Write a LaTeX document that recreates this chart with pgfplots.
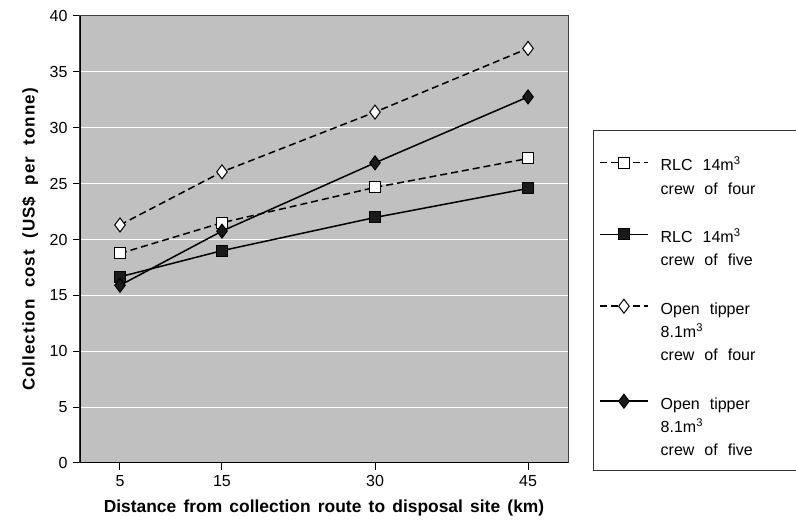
\documentclass[border=0pt]{standalone}
\usepackage{pgfplots}
\pgfplotsset{compat=1.18}
\usepackage{fontspec}
\setmainfont{Liberation Sans}
\newfontfamily\xlabfont[WordSpace=2]{Liberation Sans}
\newfontfamily\ylabfont[WordSpace=2,LetterSpace=6]{Liberation Sans}
\newfontfamily\legfont[WordSpace=1.5]{Liberation Sans}
\definecolor{bgGray}{HTML}{C0C0C0}
\definecolor{frameGray}{HTML}{404040}
\definecolor{markBlack}{HTML}{1A1A1A}
\newcommand{\legtxt}[1]{\makebox[131pt][l]{\strut #1}}
\newcommand{\legfirst}[1]{\makebox[131pt][l]{\rule{0pt}{28.8pt}\strut #1}}
\newcommand{\legsp}{\rule{0pt}{19pt}}
\pgfplotsset{
  legimgfirst/.style={legend image code/.code={%
    \path[draw=none,fill=none] (0pt,-15pt) (48pt,15pt);
    \draw[mark repeat=2,mark phase=2,##1] plot coordinates {(0pt,-4.8pt)(24pt,-4.8pt)(48pt,-4.8pt)};}},
  legimg/.style={legend image code/.code={%
    \path[draw=none,fill=none] (0pt,-10pt) (48pt,10pt);
    \draw[mark repeat=2,mark phase=2,##1] plot coordinates {(0pt,1.2pt)(24pt,1.2pt)(48pt,1.2pt)};}},
}
\begin{document}
\fontsize{16}{24}\selectfont
\begin{tikzpicture}
\path[use as bounding box] (-80pt,-66pt) rectangle (716pt,463pt);
\begin{axis}[
  scale only axis, width=488pt, height=447pt,
  xmin=1.08, xmax=48.92, ymin=0, ymax=40,
  xtick={5,15,30,45}, ytick={0,5,...,40},
  xtick pos=bottom, ytick pos=left,
  tick align=outside, major tick length=7pt,
  tick style={black, line width=1pt},
  ymajorgrids, major grid style={white, line width=1pt},
  axis background/.style={fill=bgGray},
  axis line style={draw=frameGray, line width=1pt},
  /pgf/number format/assume math mode=true,
  tick label style={font=\fontsize{16}{19}\selectfont},
  xlabel={Distance from collection route to disposal site (km)},
  ylabel={Collection cost (US\$ per tonne)},
  xlabel style={font=\xlabfont\fontsize{17.4}{20}\selectfont\bfseries, at={(axis description cs:0.5,-0.1007)}, anchor=center},
  ylabel style={font=\ylabfont\fontsize{17}{20}\selectfont\bfseries, at={(axis description cs:-0.1025,0.5)}, anchor=center},
  legend style={at={(rel axis cs:1.0512,0.745)}, anchor=north west,
    draw=black!80, fill=white, inner xsep=6pt, inner ysep=10pt,
    row sep=0pt, column sep=10pt, cells={anchor=west, inner sep=0pt},
    font=\legfont\fontsize{16}{24}\selectfont},
]
\addplot[black, line width=1.5pt, dash pattern=on 7pt off 4pt, mark=square*, mark size=5.5pt,
  mark options={solid, fill=white, line width=1pt}, legimgfirst]
  coordinates {(5,18.75) (15,21.5) (30,24.66) (45,27.25)};
\addlegendentry{\legfirst{RLC 14m\textsuperscript{3}}}
\addlegendimage{empty legend}\addlegendentry{\legtxt{crew of four}}
\addlegendimage{empty legend}\addlegendentry{\legsp}
\addplot[black, line width=1.5pt, mark=square*, mark size=5.5pt,
  mark options={solid, fill=markBlack, line width=1pt}, legimg]
  coordinates {(5,16.66) (15,19.0) (30,21.97) (45,24.57)};
\addlegendentry{\legtxt{RLC 14m\textsuperscript{3}}}
\addlegendimage{empty legend}\addlegendentry{\legtxt{crew of five}}
\addlegendimage{empty legend}\addlegendentry{\legsp}
\addplot[black, line width=1.5pt, dash pattern=on 7pt off 4pt, mark=diamond*, mark size=7pt,
  mark options={solid, fill=white, line width=1pt}, legimg]
  coordinates {(5,21.3) (15,26.05) (30,31.4) (45,37.1)};
\addlegendentry{\legtxt{Open tipper}}
\addlegendimage{empty legend}\addlegendentry{\legtxt{8.1m\textsuperscript{3}}}
\addlegendimage{empty legend}\addlegendentry{\legtxt{crew of four}}
\addlegendimage{empty legend}\addlegendentry{\legsp}
\addplot[black, line width=1.5pt, mark=diamond*, mark size=7pt,
  mark options={solid, fill=markBlack, line width=1pt}, legimg]
  coordinates {(5,15.9) (15,20.75) (30,26.86) (45,32.76)};
\addlegendentry{\legtxt{Open tipper}}
\addlegendimage{empty legend}\addlegendentry{\legtxt{8.1m\textsuperscript{3}}}
\addlegendimage{empty legend}\addlegendentry{\legtxt{crew of five}}
\draw[black, line width=1.5pt] (rel axis cs:0,1) -- (rel axis cs:0,0) -- (rel axis cs:1,0);
\end{axis}
\end{tikzpicture}
\end{document}
